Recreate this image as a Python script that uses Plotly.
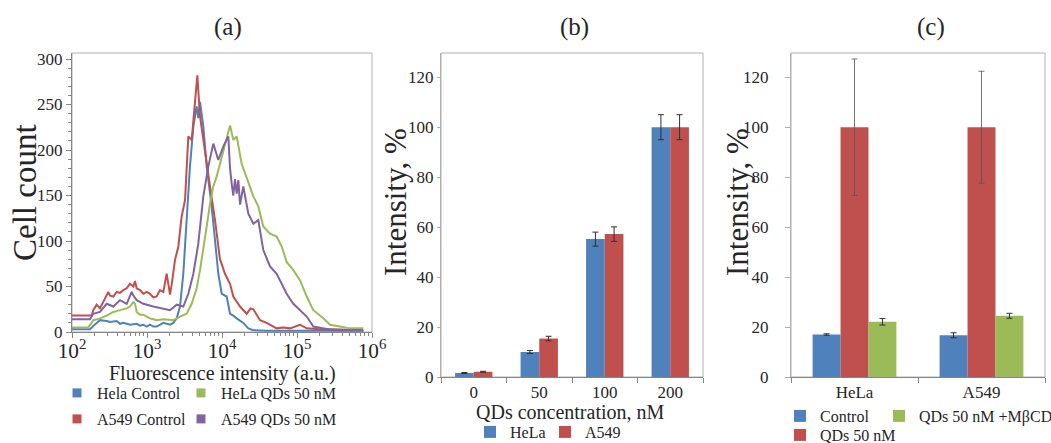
import plotly.graph_objects as go

# ---------------- Panel (a): flow cytometry histograms ----------------
hela_ctrl_x = [100, 174, 213, 236, 290, 321, 394, 437, 483, 593, 728, 807, 893, 991, 1096, 1213, 1346,
               1652, 2028, 2244, 2489, 2754, 3048, 3381, 3741, 4150, 4592, 4831, 5093, 5636, 6252, 7278,
               8072, 8933, 9908, 11535, 12794, 14158, 15704, 19231, 22439, 26182, 39446, 765597]
hela_ctrl_y = [3, 3, 10, 13, 12, 11, 12, 9, 10, 8, 9, 7, 8, 6, 8, 6, 6,
               10, 8, 10, 15, 28, 64, 130, 182, 226, 248, 235, 253, 226, 182, 138,
               101, 64, 42, 39, 20, 18, 15, 10, 4, 2, 1.5, 1.5]

a549_ctrl_x = [100, 183, 192, 213, 236, 260, 290, 305, 321, 356, 394, 437, 483, 536, 593, 658, 692, 728,
               807, 893, 991, 1096, 1213, 1346, 1489, 1652, 1828, 2028, 2133, 2360, 2618, 2897, 3214, 3556,
               3945, 4365, 4688, 5093, 5929, 6918, 8072, 9397, 10965, 12794, 14158, 17378, 21330, 24000,
               26182, 32137, 39446, 50000, 53580, 65766, 80724, 109648, 134586, 200000, 304789, 765597]
a549_ctrl_y = [18, 18, 24, 30, 26, 33, 42, 44, 40, 39, 44, 43, 46, 48, 53, 50, 56, 48,
               46, 42, 44, 42, 38, 39, 46, 44, 64, 41, 52, 79, 94, 127, 145, 215,
               211, 248, 282, 237, 196, 160, 123, 80, 64, 53, 39, 28, 20, 26,
               25, 13, 10, 6, 4, 5, 4, 8, 4, 3, 3, 2]

hela_qd_x = [100, 165, 192, 236, 290, 321, 356, 437, 536, 593, 658, 692, 728, 807, 893, 991, 1096, 1213,
             1346, 1652, 2028, 2244, 2754, 3381, 3945, 4592, 5093, 5636, 6252, 6918, 7656, 8492, 9397,
             10965, 12794, 14158, 15704, 18281, 21330, 26182, 30479, 35563, 43652, 53580, 62517, 72778,
             89331, 109648, 134586, 165196, 224388, 275423, 374111, 509331, 765597]
hela_qd_y = [5, 5, 13, 15, 18, 20, 22, 24, 26, 28, 33, 31, 22, 19, 19, 17, 15, 14,
             13, 14, 13, 13, 17, 20, 31, 48, 68, 90, 116, 141, 160, 171, 185,
             204, 227, 211, 215, 185, 169, 149, 138, 116, 108, 105, 94, 77,
             68, 57, 39, 24, 15, 8, 6, 4, 4]

a549_qd_x = [100, 174, 192, 236, 290, 356, 437, 536, 625, 658, 728, 893, 1213, 1652, 2028, 2489, 3048,
             3556, 4150, 4831, 5636, 6577, 7656, 8933, 10423, 12134, 12794, 13500, 14158, 14900, 15704,
             16520, 17400, 19231, 22439, 26182, 30479, 35563, 43652, 53580, 62517, 72778, 89331, 109648,
             134586, 165196, 224388, 304789, 765597]
a549_qd_y = [14, 14, 20, 22, 31, 28, 35, 31, 44, 40, 35, 31, 28, 26, 24, 30, 28,
             42, 64, 97, 149, 182, 207, 189, 204, 215, 180, 162, 150, 168, 152,
             167, 140, 160, 130, 119, 123, 90, 72, 64, 53, 42, 31, 24,
             17, 6, 4, 2, 2]

hist_names = ["Hela Control", "HeLa QDs 50 nM", "A549 Control", "A549 QDs 50 nM"]

# ---------------- Panel (b): concentration series ----------------
conc_labels = ["0", "50", "100", "200"]
b_hela = [1.6, 10.0, 55.2, 100.0]
b_hela_err = [0.2, 0.6, 2.8, 5.0]
b_a549 = [2.1, 15.4, 57.2, 100.0]
b_a549_err = [0.2, 0.9, 2.9, 5.0]

# ---------------- Panel (c): MβCD inhibition ----------------
cell_lines = ["HeLa", "A549"]
c_control = [17.0, 16.7]
c_control_err = [0.3, 1.0]
c_qds = [100.0, 100.0]
c_qds_err = [27.3, 22.4]
c_mbcd = [22.1, 24.5]
c_mbcd_err = [1.3, 1.0]

BLUE = "#4F81BD"
RED = "#C0504D"
GREEN = "#9BBB59"
PURPLE = "#8064A2"
TXT = "#262626"
FONT = '"Liberation Serif", "Times New Roman", serif'
W, H = 1051, 443


def px(x):
    return x / W


def py(y):
    return 1 - y / H


fig = go.Figure()

# histogram lines
for xs, ys, col in [(hela_ctrl_x, hela_ctrl_y, BLUE), (a549_ctrl_x, a549_ctrl_y, RED),
                    (hela_qd_x, hela_qd_y, GREEN), (a549_qd_x, a549_qd_y, PURPLE)]:
    fig.add_trace(go.Scatter(x=xs, y=ys, mode="lines", line=dict(color=col, width=2),
                             showlegend=False, xaxis="x", yaxis="y", hoverinfo="skip"))

# legend entries for histograms (square markers)
for name, col, leg, lw in [(hist_names[0], BLUE, "legend", 79), (hist_names[1], GREEN, "legend", 130),
                           (hist_names[2], RED, "legend4", 79), (hist_names[3], PURPLE, "legend4", 130)]:
    fig.add_trace(go.Scatter(x=[None], y=[None], mode="markers", name=name,
                             marker=dict(symbol="square", size=9, color=col),
                             xaxis="x", yaxis="y", legend=leg, legendwidth=lw))

err_style = dict(type="data", color="#303030", thickness=1, width=3, visible=True)

# panel (b)
fig.add_trace(go.Bar(x=conc_labels, y=b_hela, name="HeLa", marker=dict(color=BLUE, line=dict(width=0)),
                     error_y=dict(array=b_hela_err, **err_style), width=0.285, offset=-0.285,
                     xaxis="x2", yaxis="y2", legend="legend2", legendwidth=30))
fig.add_trace(go.Bar(x=conc_labels, y=b_a549, name="A549", marker=dict(color=RED, line=dict(width=0)),
                     error_y=dict(array=b_a549_err, **err_style), width=0.285, offset=0,
                     xaxis="x2", yaxis="y2", legend="legend2", legendwidth=60))

# panel (c)
fig.add_trace(go.Bar(x=cell_lines, y=c_control, name="Control", marker=dict(color=BLUE, line=dict(width=0)),
                     error_y=dict(array=c_control_err, **err_style), width=0.22, offset=-0.33,
                     xaxis="x3", yaxis="y3", legend="legend3", legendwidth=54))
fig.add_trace(go.Bar(x=cell_lines, y=c_qds, name="QDs 50 nM", marker=dict(color=RED, line=dict(width=0)),
                     error_y=dict(array=c_qds_err, type="data", color="#555555", thickness=0.8, width=3),
                     width=0.22, offset=-0.11,
                     xaxis="x3", yaxis="y3", legend="legend5", legendwidth=100))
fig.add_trace(go.Bar(x=cell_lines, y=c_mbcd, name="QDs 50 nM +MβCD", marker=dict(color=GREEN, line=dict(width=0)),
                     error_y=dict(array=c_mbcd_err, **err_style), width=0.22, offset=0.11,
                     xaxis="x3", yaxis="y3", legend="legend3", legendwidth=130))

tickfont = dict(family=FONT, size=17, color=TXT)
ax_dark = "#868686"
ax_light = "#B0B0B0"

layout = dict(
    width=W, height=H,
    margin=dict(l=0, r=0, t=0, b=0, autoexpand=False),
    paper_bgcolor="white", plot_bgcolor="white",
    font=dict(family=FONT, color=TXT),
    barmode="group",
    xaxis=dict(domain=[px(72), px(372)], type="log", range=[2, 6], dtick=1, exponentformat="power",
               showgrid=False, zeroline=False, showline=True, linecolor=ax_dark, linewidth=1,
               ticks="outside", ticklen=5, tickcolor=ax_dark, tickfont=tickfont, automargin=False,
               ticklabelstandoff=-5,
               minor=dict(ticks="outside", ticklen=3, tickcolor=ax_dark, showgrid=False),
               anchor="y"),
    yaxis=dict(domain=[py(332), py(53)], range=[0, 306.6], dtick=50, showgrid=False, zeroline=False,
               showline=True, linecolor=ax_dark, linewidth=1, ticks="outside", ticklen=5,
               tickcolor=ax_dark, tickfont=tickfont, automargin=False, ticklabelstandoff=0,
               minor=dict(ticks="outside", ticklen=3, dtick=10, tickcolor=ax_dark, showgrid=False),
               anchor="x"),
    xaxis2=dict(domain=[px(441), px(703)], type="category", showgrid=False, zeroline=False,
                showline=True, linecolor=ax_dark, linewidth=1, ticks="outside", ticklen=5,
                tickson="boundaries", tickcolor=ax_dark, tickfont=dict(family=FONT, size=17, color=TXT),
                automargin=False, anchor="y2"),
    yaxis2=dict(domain=[py(377), py(53)], range=[0, 129.7], dtick=20, showgrid=False, zeroline=False,
                showline=True, linecolor=ax_light, linewidth=1, ticks="outside", ticklen=3,
                tickcolor=ax_light, tickfont=dict(family=FONT, size=17, color=TXT), automargin=False,
                anchor="x2"),
    xaxis3=dict(domain=[px(791), px(1045)], type="category", showgrid=False, zeroline=False,
                showline=True, linecolor=ax_dark, linewidth=1, ticks="outside", ticklen=5,
                tickson="boundaries", tickcolor=ax_dark, tickfont=dict(family=FONT, size=17, color=TXT),
                automargin=False, anchor="y3"),
    yaxis3=dict(domain=[py(377), py(53)], range=[0, 129.7], dtick=20, showgrid=False, zeroline=False,
                showline=True, linecolor=ax_light, linewidth=1, ticks="outside", ticklen=5,
                tickcolor=ax_light, ticklabelstandoff=13, automargin=False,
                tickfont=dict(family=FONT, size=17, color=TXT), anchor="x3"),
)

leg_common = dict(orientation="h", bgcolor="rgba(0,0,0,0)", borderwidth=0, itemwidth=30,
                  xanchor="left", yanchor="middle", traceorder="normal",
                  font=dict(family=FONT, size=16, color=TXT), itemclick=False, itemdoubleclick=False)
layout["legend"] = dict(x=px(57), y=py(393), **leg_common)
layout["legend4"] = dict(x=px(57), y=py(419), **leg_common)
layout["legend2"] = dict(x=px(470), y=py(432), **leg_common)
layout["legend3"] = dict(x=px(780), y=py(416), **leg_common)
layout["legend5"] = dict(x=px(780), y=py(435), **leg_common)

fig.update_layout(**layout)

# frames (light grey boxes)
for xr, yr in [("x domain", "y domain"), ("x2 domain", "y2 domain"), ("x3 domain", "y3 domain")]:
    fig.add_shape(type="rect", xref=xr, yref=yr, x0=0, x1=1, y0=0, y1=1,
                  line=dict(color=ax_light, width=1), layer="below")

# panel titles and axis titles
ann = [
    dict(text="(a)", x=px(228), y=py(27), font=dict(family=FONT, size=25, color=TXT)),
    dict(text="(b)", x=px(574), y=py(27), font=dict(family=FONT, size=25, color=TXT)),
    dict(text="(c)", x=px(931), y=py(27), font=dict(family=FONT, size=25, color=TXT)),
    dict(text="Cell count", x=px(25), y=py(193), textangle=-90, font=dict(family=FONT, size=33, color=TXT)),
    dict(text="Intensity, %", x=px(395), y=py(202), textangle=-90, font=dict(family=FONT, size=31, color=TXT)),
    dict(text="Intensity, %", x=px(737), y=py(202), textangle=-90, font=dict(family=FONT, size=31, color=TXT)),
    dict(text="Fluorescence intensity (a.u.)", x=px(222), y=py(373), font=dict(family=FONT, size=20, color=TXT)),
    dict(text="QDs concentration, nM", x=px(570), y=py(412), font=dict(family=FONT, size=20, color=TXT)),
]
for a in ann:
    fig.add_annotation(xref="paper", yref="paper", showarrow=False, xanchor="center", yanchor="middle", **a)

fig.write_html("out.html", config={"displayModeBar": False},
               post_script="document.body.style.margin='0px';document.body.style.overflow='hidden';")
